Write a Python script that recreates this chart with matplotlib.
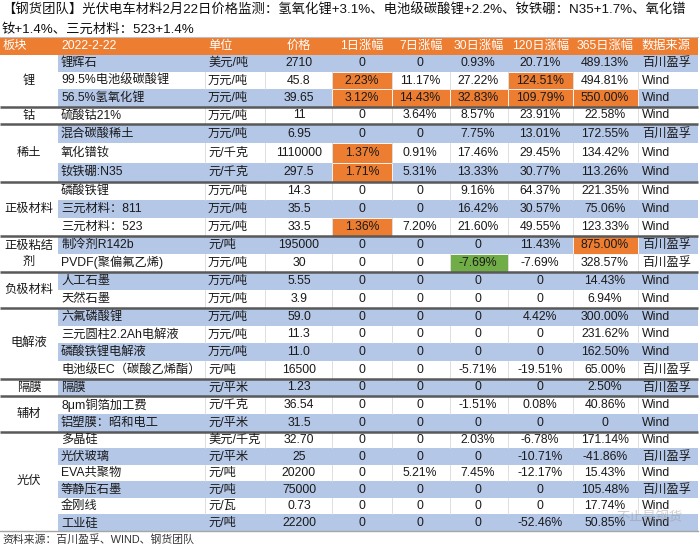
import matplotlib
matplotlib.use("Agg")
import matplotlib.pyplot as plt
from matplotlib.patches import Rectangle

plt.rcParams['font.family'] = ['Liberation Sans', 'Noto Sans CJK SC', 'DejaVu Sans']

# ---- data ----
title_1 = "【钢货团队】光伏电车材料2月22日价格监测：氢氧化锂+3.1%、电池级碳酸锂+2.2%、钕铁硼：N35+1.7%、氧化镨"
title_2 = "钕+1.4%、三元材料：523+1.4%"
headers = ["板块", "2022-2-22", "单位", "价格", "1日涨幅", "7日涨幅", "30日涨幅", "120日涨幅", "365日涨幅", "数据来源"]

groups = ["锂", "钴", "稀土", "正极材料", "正极粘结\n剂", "负极材料", "电解液", "隔膜", "辅材", "光伏"]
group_sizes = [3, 1, 3, 3, 2, 2, 4, 1, 2, 6]

items = ["锂辉石", "99.5%电池级碳酸锂", "56.5%氢氧化锂", "硫酸钴21%", "混合碳酸稀土", "氧化镨钕",
         "钕铁硼:N35", "磷酸铁锂", "三元材料：811", "三元材料：523", "制冷剂R142b", "PVDF(聚偏氟乙烯)",
         "人工石墨", "天然石墨", "六氟磷酸锂", "三元圆柱2.2Ah电解液", "磷酸铁锂电解液",
         "电池级EC（碳酸乙烯酯）", "隔膜", "8μm铜箔加工费", "铝塑膜：昭和电工", "多晶硅", "光伏玻璃",
         "EVA共聚物", "等静压石墨", "金刚线", "工业硅"]
units = ["美元/吨", "万元/吨", "万元/吨", "万元/吨", "万元/吨", "元/千克", "元/千克", "万元/吨", "万元/吨",
         "万元/吨", "元/吨", "万元/吨", "万元/吨", "万元/吨", "万元/吨", "万元/吨", "万元/吨", "元/吨",
         "元/平米", "元/千克", "元/平米", "美元/千克", "元/平米", "元/吨", "元/吨", "元/瓦", "元/吨"]
prices = ["2710", "45.8", "39.65", "11", "6.95", "1110000", "297.5", "14.3", "35.5", "33.5", "195000",
          "30", "5.55", "3.9", "59.0", "11.3", "11.0", "16500", "1.23", "36.54", "31.5", "32.70", "25",
          "20200", "75000", "0.73", "22200"]
chg_1d = [0, 2.23, 3.12, 0, 0, 1.37, 1.71, 0, 0, 1.36, 0, 0, 0, 0, 0, 0, 0, 0, 0, 0, 0, 0, 0, 0, 0, 0, 0]
chg_7d = [0, 11.17, 14.43, 3.64, 0, 0.91, 5.31, 0, 0, 7.20, 0, 0, 0, 0, 0, 0, 0, 0, 0, 0, 0, 0, 0,
          5.21, 0, 0, 0]
chg_30d = [0.93, 27.22, 32.83, 8.57, 7.75, 17.46, 13.33, 9.16, 16.42, 21.60, 0, -7.69, 0, 0, 0, 0, 0,
           -5.71, 0, -1.51, 0, 2.03, 0, 7.45, 0, 0, 0]
chg_120d = [20.71, 124.51, 109.79, 23.91, 13.01, 29.45, 30.77, 64.37, 30.57, 49.55, 11.43, -7.69, 0, 0,
            4.42, 0, 0, -19.51, 0, 0.08, 0, -6.78, -10.71, -12.17, 0, 0, -52.46]
chg_365d = [489.13, 494.81, 550.00, 22.58, 172.55, 134.42, 113.26, 221.35, 75.06, 123.33, 875.00, 328.57,
            14.43, 6.94, 300.00, 231.62, 162.50, 65.00, 2.50, 40.86, 0, 171.14, -41.86, 15.43, 105.48,
            17.74, 50.85]
sources = ["百川盈孚", "Wind", "Wind", "Wind", "百川盈孚", "Wind", "Wind", "Wind", "Wind", "Wind",
           "百川盈孚", "百川盈孚", "Wind", "Wind", "Wind", "Wind", "Wind", "百川盈孚", "百川盈孚", "Wind",
           "Wind", "Wind", "百川盈孚", "Wind", "百川盈孚", "Wind", "Wind"]
footer = "资料来源：百川盈孚、WIND、钢货团队"
watermark = "不止是钢货"

# ---- layout / style ----
ORANGE = "#ED7D31"
BLUE = "#B4C7E7"
GREEN = "#70AD47"
SEP = "#595959"
FS = 8.8

col_edges = [0, 58, 205, 265, 332, 392, 450, 508, 573, 638, 698]
pct_cols = [4, 5, 6, 7, 8]
header_top, header_bot = 38, 54.5
group_edges = [54.5, 106.7, 124.3, 181.7, 236, 271.7, 307.7, 379, 396, 431.7, 531]

# highlighted cells: (row, column index)
orange_cells = [(1, 4), (1, 7), (2, 4), (2, 5), (2, 6), (2, 7), (2, 8), (5, 4), (6, 4), (9, 4), (10, 8)]
green_cells = [(11, 6)]


def fmt_pct(v):
    return "0" if v == 0 else f"{v:.2f}%"


# row boundaries from group edges
row_tops, row_bots = [], []
for g, n in enumerate(group_sizes):
    y0, y1 = group_edges[g], group_edges[g + 1]
    h = (y1 - y0) / n
    for k in range(n):
        row_tops.append(y0 + k * h)
        row_bots.append(y0 + (k + 1) * h)

fig = plt.figure(figsize=(7.0, 5.49), dpi=100)
ax = fig.add_axes([0, 0, 1, 1])
ax.set_xlim(0, 700)
ax.set_ylim(549, 0)
ax.set_axis_off()

# title
ax.text(2, 10, title_1, fontsize=9.6, va="center", ha="left", color="#111111")
ax.text(2, 30, title_2, fontsize=9.6, va="center", ha="left", color="#111111")
ax.plot([0, 698], [37, 37], color="#BFBFBF", lw=0.8)

# header
ax.add_patch(Rectangle((0, header_top), 698, header_bot - header_top, color=ORANGE, lw=0))
hy = (header_top + header_bot) / 2
ax.text(3, hy, headers[0], fontsize=FS, color="white", va="center", ha="left")
ax.text(61, hy, headers[1], fontsize=FS, color="white", va="center", ha="left")
ax.text(208, hy, headers[2], fontsize=FS, color="white", va="center", ha="left")
ax.text(299, hy, headers[3], fontsize=FS, color="white", va="center", ha="center")
for c, lab in zip(pct_cols, headers[4:9]):
    ax.text((col_edges[c] + col_edges[c + 1]) / 2, hy, lab, fontsize=FS, color="white", va="center", ha="center")
ax.text(642, hy, headers[9], fontsize=FS, color="white", va="center", ha="left")

# body rows
pct_centers = [362, 420, 478, 540, 605]
for r in range(len(items)):
    top, bot = row_tops[r], row_bots[r]
    h = bot - top
    ym = (top + bot) / 2
    if r % 2 == 0:
        ax.add_patch(Rectangle((58, top), 640, h, color=BLUE, lw=0))
    else:
        for x in col_edges[2:-1]:
            ax.plot([x, x], [top, bot], color="#D9D9D9", lw=0.6)
    for (rr, c) in orange_cells + green_cells:
        if rr == r:
            col = GREEN if (rr, c) in green_cells else ORANGE
            ax.add_patch(Rectangle((col_edges[c], top), col_edges[c + 1] - col_edges[c], h,
                                   facecolor=col, edgecolor="white", lw=0.6))
    ax.text(61, ym, items[r], fontsize=FS, va="center", ha="left", color="#1a1a1a")
    ax.text(208, ym, units[r], fontsize=FS, va="center", ha="left", color="#1a1a1a")
    ax.text(299, ym, prices[r], fontsize=FS, va="center", ha="center", color="#1a1a1a")
    vals = [chg_1d[r], chg_7d[r], chg_30d[r], chg_120d[r], chg_365d[r]]
    for xc, v in zip(pct_centers, vals):
        ax.text(xc, ym, fmt_pct(v), fontsize=FS, va="center", ha="center", color="#1a1a1a")
    ax.text(642, ym, sources[r], fontsize=FS, va="center", ha="left", color="#1a1a1a")

# group labels and separators
for g, name in enumerate(groups):
    y0, y1 = group_edges[g], group_edges[g + 1]
    ax.text(29, (y0 + y1) / 2, name, fontsize=FS, va="center", ha="center", color="#1a1a1a",
            linespacing=1.5, multialignment="center")
    if g > 0:
        ax.plot([0, 698], [y0, y0], color=SEP, lw=1.8, solid_capstyle="butt")
ax.plot([0, 698], [531, 531], color="#A6A6A6", lw=1.0)

# footer and watermark
ax.text(2, 540, footer, fontsize=7.8, va="center", ha="left", color="#333333")
ax.text(616, 517, watermark, fontsize=9.5, va="center", ha="left", color="#8c8c8c", alpha=0.4)

fig.savefig("out.png", dpi=100, facecolor="white")
